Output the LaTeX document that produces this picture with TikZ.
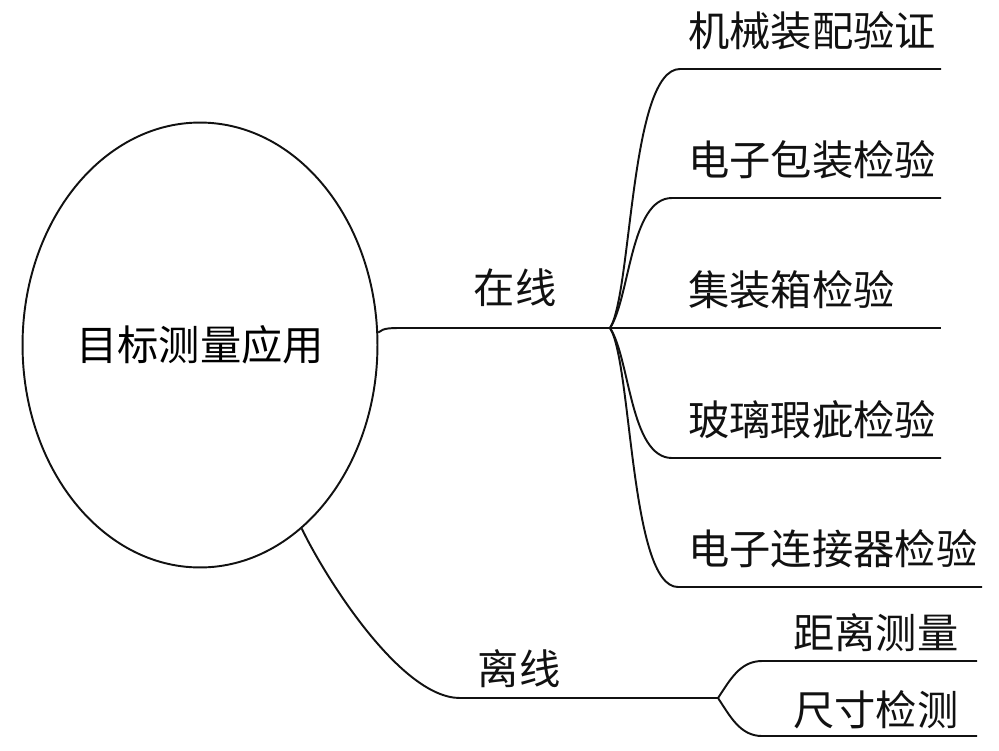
\documentclass[tikz,border=0pt]{standalone}
\usepackage{fontspec}
\setmainfont{Noto Sans CJK SC}
\usetikzlibrary{shapes.geometric, positioning, calc}
\definecolor{inkline}{HTML}{111111}
\tikzset{
  rootnode/.style={ellipse, draw=inkline, line width=1.1pt, minimum width=7.1cm,
    minimum height=8.9cm, inner sep=0pt, font=\fontsize{23.5}{28}\selectfont},
  branchlbl/.style={font=\fontsize{23.5}{28}\selectfont, inner sep=0pt, text=inkline},
  leaf/.style={branchlbl, anchor=west},
  link/.style={draw=inkline, line width=1.1pt},
}

\begin{document}
\begin{tikzpicture}[x=0.02cm, y=-0.02cm]
\useasboundingbox (0,0) rectangle (999,750);
\node[rootnode] (root) at (200,345) {目标测量应用};
\node[branchlbl] (online) at (515,288) {在线};
\node[branchlbl] (offline) at (519,669) {离线};
\coordinate (onknee) at (410,328);
\coordinate (onhub) at (610,328);
\coordinate (offknee) at (460,698);
\coordinate (offhub) at (718,698);
\draw[link] (root.4) .. controls +(6,-5) and +(-20,0) .. (onknee) -- (onhub);
\draw[link] (root.-61) .. controls +(22,46) and +(-60,0) .. (offknee) -- (offhub);
% online leaves
\node[leaf] (mech) at (688,31) {机械装配验证};
\node[leaf] (pack) at (688,160) {电子包装检验};
\node[leaf] (cont) at (688,290) {集装箱检验};
\node[leaf] (glass) at (688,420) {玻璃瑕疵检验};
\node[leaf] (conn) at (688,549) {电子连接器检验};
\coordinate (mechs) at (680,69);  \coordinate (meche) at (941,69);
\coordinate (packs) at (672,198); \coordinate (packe) at (941,198);
\coordinate (conte) at (941,328);
\coordinate (glasss) at (672,458); \coordinate (glasse) at (941,458);
\coordinate (conns) at (678,587); \coordinate (conne) at (982,587);
\draw[link] (onhub) .. controls +(22,-35) and +(-50,0) .. (mechs) -- (meche);
\draw[link] (onhub) .. controls +(20,-30) and +(-42,0) .. (packs) -- (packe);
\draw[link] (onhub) -- (conte);
\draw[link] (onhub) .. controls +(20,30) and +(-42,0) .. (glasss) -- (glasse);
\draw[link] (onhub) .. controls +(22,35) and +(-48,0) .. (conns) -- (conne);
% offline leaves
\node[leaf] (dist) at (793,633) {距离测量};
\node[leaf] (size) at (793,710) {尺寸检测};
\coordinate (dists) at (762,661); \coordinate (diste) at (977,661);
\coordinate (sizes) at (762,736); \coordinate (sizee) at (977,736);
\draw[link] (offhub) .. controls +(12,-18) and +(-22,0) .. (dists) -- (diste);
\draw[link] (offhub) .. controls +(12,18) and +(-22,0) .. (sizes) -- (sizee);
\end{tikzpicture}
\end{document}
